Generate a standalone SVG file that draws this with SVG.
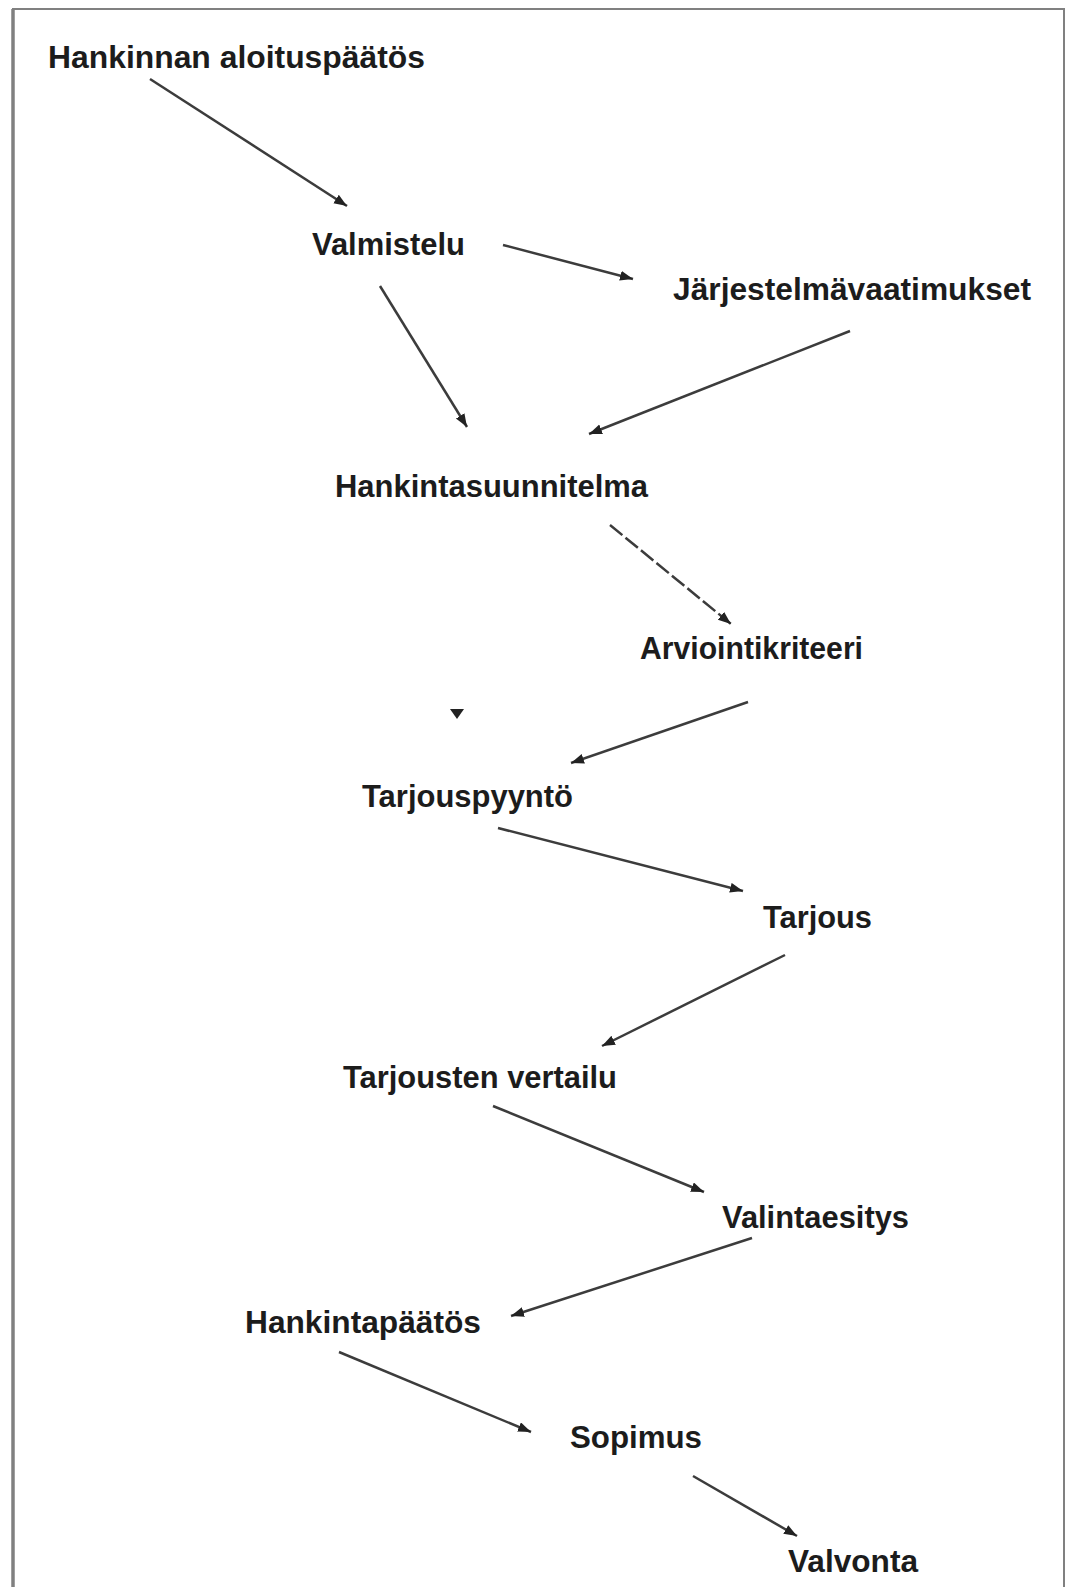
<svg xmlns="http://www.w3.org/2000/svg" width="1067" height="1587" viewBox="0 0 1067 1587">
  <style>
    .lbl { font-family: "Liberation Sans", Arial, sans-serif; font-size: 31px; font-weight: bold; fill: #1c1c1c; }
    .edge { stroke: #3c3c3c; stroke-width: 2.5; fill: none; marker-end: url(#arrow); }
    .dash { stroke-dasharray: 16 4; }
    .frame { stroke: #808080; fill: none; }
  </style>
  <defs>
    <marker id="arrow" markerUnits="userSpaceOnUse" markerWidth="15" markerHeight="11" refX="13" refY="5" orient="auto">
      <path d="M0,0 L13,5 L0,10 Z" fill="#222"/>
    </marker>
  </defs>
  <rect width="1067" height="1587" fill="#ffffff"/>
  <g id="frame">
    <line class="frame" x1="13" y1="1587" x2="13" y2="9" stroke-width="3.5"/>
    <line class="frame" x1="12" y1="9" x2="1065" y2="9" stroke-width="2"/>
    <line class="frame" x1="1064" y1="8" x2="1064" y2="1587" stroke-width="2"/>
  </g>
  <g id="connectors">
    <line class="edge" x1="150" y1="79" x2="347" y2="206"/>
    <line class="edge" x1="503" y1="245" x2="633" y2="279"/>
    <line class="edge" x1="380" y1="286" x2="467" y2="427"/>
    <line class="edge" x1="850" y1="331" x2="589" y2="434"/>
    <line class="edge dash" x1="610" y1="525" x2="731" y2="624"/>
    <line class="edge" x1="748" y1="702" x2="571" y2="763"/>
    <line class="edge" x1="498" y1="828" x2="743" y2="891"/>
    <line class="edge" x1="785" y1="955" x2="602" y2="1046"/>
    <line class="edge" x1="493" y1="1106" x2="704" y2="1192"/>
    <line class="edge" x1="752" y1="1238" x2="511" y2="1316"/>
    <line class="edge" x1="339" y1="1352" x2="531" y2="1432"/>
    <line class="edge" x1="693" y1="1476" x2="797" y2="1536"/>
    <polygon points="450,709 464,709 457,719" fill="#222"/>
  </g>
  <g id="n-aloituspaatos"><text class="lbl" x="48" y="68" textLength="377" lengthAdjust="spacingAndGlyphs">Hankinnan aloituspäätös</text></g>
  <g id="n-valmistelu"><text class="lbl" x="312" y="255" textLength="153" lengthAdjust="spacingAndGlyphs">Valmistelu</text></g>
  <g id="n-jarjestelmavaatimukset"><text class="lbl" x="673" y="300" textLength="358" lengthAdjust="spacingAndGlyphs">Järjestelmävaatimukset</text></g>
  <g id="n-hankintasuunnitelma"><text class="lbl" x="335" y="497" textLength="313" lengthAdjust="spacingAndGlyphs">Hankintasuunnitelma</text></g>
  <g id="n-arviointikriteeri"><text class="lbl" x="640" y="659" textLength="223" lengthAdjust="spacingAndGlyphs">Arviointikriteeri</text></g>
  <g id="n-tarjouspyynto"><text class="lbl" x="362" y="807" textLength="211" lengthAdjust="spacingAndGlyphs">Tarjouspyyntö</text></g>
  <g id="n-tarjous"><text class="lbl" x="763" y="928" textLength="109" lengthAdjust="spacingAndGlyphs">Tarjous</text></g>
  <g id="n-tarjousten-vertailu"><text class="lbl" x="343" y="1088" textLength="274" lengthAdjust="spacingAndGlyphs">Tarjousten vertailu</text></g>
  <g id="n-valintaesitys"><text class="lbl" x="722" y="1228" textLength="187" lengthAdjust="spacingAndGlyphs">Valintaesitys</text></g>
  <g id="n-hankintapaatos"><text class="lbl" x="245" y="1333" textLength="236" lengthAdjust="spacingAndGlyphs">Hankintapäätös</text></g>
  <g id="n-sopimus"><text class="lbl" x="570" y="1448" textLength="132" lengthAdjust="spacingAndGlyphs">Sopimus</text></g>
  <g id="n-valvonta"><text class="lbl" x="788" y="1572" textLength="130" lengthAdjust="spacingAndGlyphs">Valvonta</text></g>
</svg>
